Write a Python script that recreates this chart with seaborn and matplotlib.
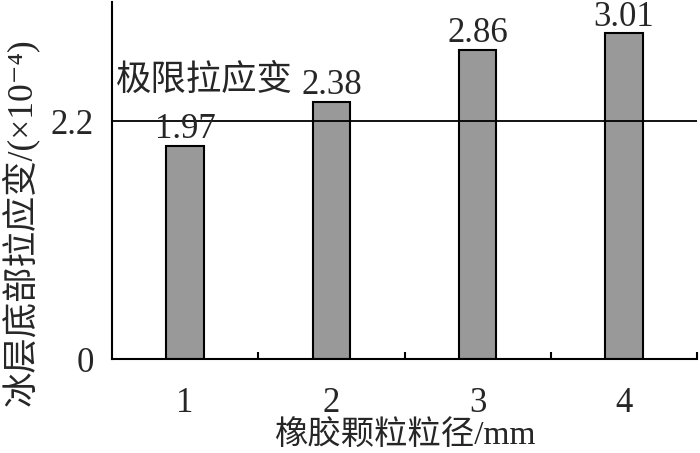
import numpy as np
import pandas as pd
import matplotlib
matplotlib.use('Agg')
import matplotlib.pyplot as plt
import seaborn as sns

# 数据
sizes = ['1', '2', '3', '4']
strain = [1.97, 2.38, 2.86, 3.01]
limit_value = 2.2
limit_label = '极限拉应变'

df = pd.DataFrame({'size': sizes, 'strain': strain})

sns.set_style('white')
plt.rcParams['font.family'] = ['Liberation Serif', 'Noto Sans CJK SC', 'DejaVu Sans']
plt.rcParams['axes.unicode_minus'] = False

fig = plt.figure(figsize=(7, 4.53), dpi=100)
ax = fig.add_axes([0.16, 0.2075, 0.836, 0.788])

sns.barplot(data=df, x='size', y='strain', color='#999999', saturation=1,
            width=0.255, edgecolor='black', linewidth=1.5, ax=ax)

# 极限拉应变线
ax.axhline(limit_value, color='black', linewidth=1.3, zorder=1)
ax.text(-0.47, limit_value + 0.37, limit_label, fontsize=25.5, ha='left', va='center')

for p, v in zip(ax.patches, strain):
    ax.text(p.get_x() + p.get_width() / 2, v + 0.07, f'{v:.2f}',
            ha='center', va='baseline', fontsize=25)

ax.set_xlim(-0.5, 3.5)
ax.set_ylim(0, 3.3)
ax.set_yticks([0, limit_value])
ax.set_yticklabels(['0', '2.2'], fontsize=25)
ax.set_yticks([3.3], minor=True)
ax.tick_params(axis='y', which='major', length=0, pad=13)
ax.tick_params(axis='y', which='minor', direction='in', length=11, width=1.5, color='black')
ax.set_xticks([0.5, 1.5, 2.5, 3.5], minor=True)
ax.tick_params(axis='x', which='major', length=0, pad=20, labelsize=25)
ax.tick_params(axis='x', which='minor', direction='in', length=5, width=1.5, color='black', bottom=True)

for s in ['top', 'right']:
    ax.spines[s].set_visible(False)
for s in ['left', 'bottom']:
    ax.spines[s].set_color('black')
    ax.spines[s].set_linewidth(1.5)

ax.set_xlabel('橡胶颗粒粒径/mm', fontsize=24, labelpad=0)
ax.set_ylabel('')
fig.text(0.029, 0.51, '冰层底部拉应变/(×10⁻⁴)', fontsize=25.5, rotation=90,
         ha='center', va='center')

plt.savefig('out.png', dpi=100)
